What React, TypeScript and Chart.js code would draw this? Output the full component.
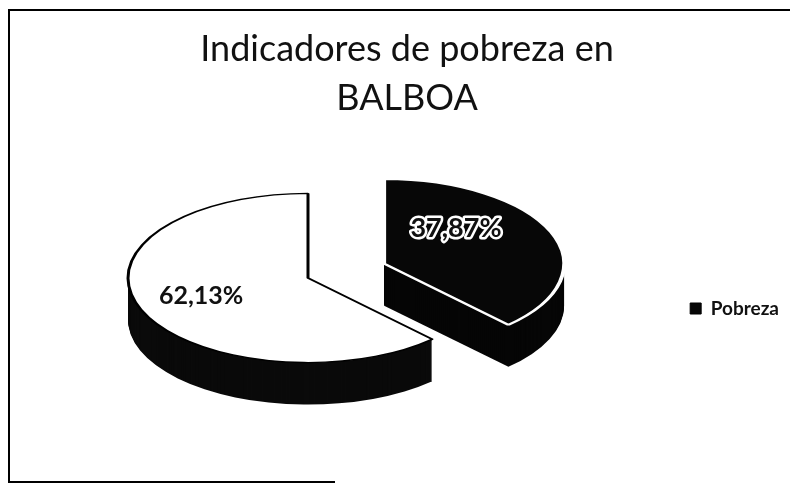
import React, { useEffect, useRef } from 'react';
import { Chart, registerables } from 'chart.js';

Chart.register(...registerables);

// ---- data ----
const categories = ['Pobreza', 'No pobreza'];
const values = [37.87, 62.13];
const titleLines = ['Indicadores de pobreza en', 'BALBOA'];
const legendShown = ['Pobreza'];

// ---- styles ----
const topColors = ['#070707', '#ffffff'];
const edgeColors = ['#ffffff', '#000000'];
const edgeWidths = [4, 3];
const sideColors = ['#060606', '#0a0a0a'];
const explode = [82, 0];
const PROJ = { x: 308, y: 278, k: 0.47, depth: 42, radius: 180 };
const labelStyle = [
  { f: 0.43, dy: -22, size: 27, halo: true },
  { f: 0.64, dy: -2, size: 25, halo: false },
];

function arcShift(el: any, i: number) {
  const half = (el.startAngle + el.endAngle) / 2;
  const e = explode[i] || 0;
  return { dx: Math.cos(half) * e, dy: Math.sin(half) * e };
}

function project(ctx: CanvasRenderingContext2D, cx: number, cy: number, extraY: number) {
  ctx.translate(PROJ.x, PROJ.y + extraY);
  ctx.scale(1, PROJ.k);
  ctx.translate(-cx, -cy);
}

const pie3d = {
  id: 'pie3d',
  beforeDatasetDraw() {
    // the slices are drawn below, in projection, by the library's own arc elements
    return false;
  },
  beforeDatasetsDraw(chart: any) {
    const ctx: CanvasRenderingContext2D = chart.ctx;
    const arcs = chart.getDatasetMeta(0).data;
    const order = arcs
      .map((el: any, i: number) => ({ el, i, s: arcShift(el, i) }))
      .sort((a: any, b: any) => a.s.dy - b.s.dy);
    // side walls
    for (let d = PROJ.depth; d >= 1; d--) {
      for (const { el, i, s } of order) {
        ctx.save();
        project(ctx, el.x, el.y, d);
        ctx.beginPath();
        ctx.moveTo(el.x + s.dx, el.y + s.dy);
        ctx.arc(el.x + s.dx, el.y + s.dy, el.outerRadius, el.startAngle, el.endAngle);
        ctx.closePath();
        ctx.fillStyle = sideColors[i];
        ctx.fill();
        ctx.restore();
      }
    }
    // top faces
    for (const { el, s } of order) {
      ctx.save();
      project(ctx, el.x, el.y, 0);
      ctx.translate(s.dx, s.dy);
      el.draw(ctx, chart.chartArea);
      ctx.restore();
    }
    // value labels
    arcs.forEach((el: any, i: number) => {
      const st = labelStyle[i];
      const s = arcShift(el, i);
      const mid = (el.startAngle + el.endAngle) / 2;
      const px = s.dx + Math.cos(mid) * el.outerRadius * st.f;
      const py = s.dy + Math.sin(mid) * el.outerRadius * st.f;
      const X = PROJ.x + px;
      const Y = PROJ.y + py * PROJ.k + st.dy;
      const text = values[i].toFixed(2).replace('.', ',') + '%';
      ctx.save();
      ctx.font = `bold ${st.size}px Lato`;
      ctx.textAlign = 'center';
      ctx.textBaseline = 'middle';
      if (st.halo) {
        ctx.lineWidth = 5;
        ctx.lineJoin = 'round';
        ctx.strokeStyle = '#ffffff';
        ctx.strokeText(text, X, Y);
      }
      ctx.fillStyle = '#111111';
      ctx.fillText(text, X, Y);
      ctx.restore();
    });
  },
};

const frame = {
  id: 'frame',
  afterDraw(chart: any) {
    const ctx: CanvasRenderingContext2D = chart.ctx;
    ctx.save();
    ctx.strokeStyle = '#000';
    ctx.lineWidth = 2;
    ctx.beginPath();
    ctx.moveTo(8, 10);
    ctx.lineTo(790, 10);
    ctx.moveTo(9, 10);
    ctx.lineTo(9, 482);
    ctx.lineTo(335, 482);
    ctx.stroke();
    ctx.restore();
  },
};

export default function App() {
  const ref = useRef<HTMLCanvasElement | null>(null);
  useEffect(() => {
    if (!ref.current) return;
    const chart = new Chart(ref.current, {
      type: 'pie',
      data: {
        labels: categories,
        datasets: [
          {
            data: values,
            backgroundColor: topColors,
            borderColor: edgeColors,
            borderWidth: edgeWidths,
            clip: false,
          } as any,
        ],
      },
      options: {
        responsive: false,
        animation: false,
        radius: PROJ.radius,
        layout: { padding: { left: 25, right: 1, top: 0, bottom: 157 } },
        plugins: {
          tooltip: { enabled: false },
          title: {
            display: true,
            text: titleLines,
            color: '#111',
            font: { family: 'Lato', size: 36, weight: 'normal', lineHeight: 49 / 36 },
            padding: { top: 25, bottom: 10 },
          },
          legend: {
            position: 'right',
            align: 'end',
            labels: {
              boxWidth: 11,
              boxHeight: 11,
              padding: 10,
              color: '#111',
              font: { family: 'Lato', size: 19, weight: 'bold' },
              generateLabels: () =>
                legendShown.map((text) => {
                  const i = categories.indexOf(text);
                  return {
                    text,
                    fillStyle: topColors[i],
                    strokeStyle: '#000',
                    lineWidth: 1,
                    hidden: false,
                    index: i,
                    fontColor: '#111',
                  };
                }),
            },
          },
        },
      } as any,
      plugins: [pie3d, frame],
    });
    return () => chart.destroy();
  }, []);
  return (
    <div style={{ position: 'fixed', left: 0, top: 0, width: 790, height: 485, background: '#fff' }}>
      <canvas ref={ref} width={790} height={485} style={{ display: 'block' }} />
    </div>
  );
}
